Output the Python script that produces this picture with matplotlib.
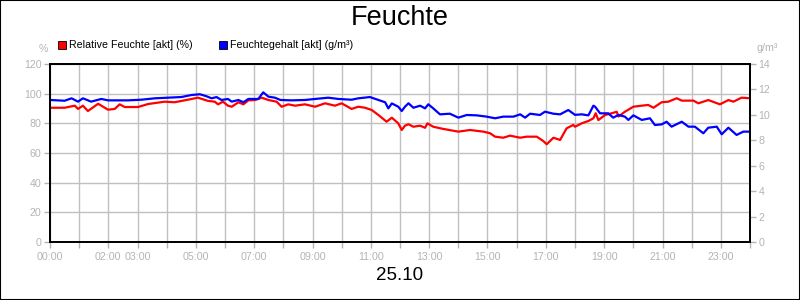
import matplotlib
matplotlib.use('Agg')
import matplotlib.pyplot as plt
from matplotlib.patches import Rectangle

'''
--------------------------> DATA (read off the reference)
'''

# relative humidity in %, left axis
rel_hours = [0.0, 0.5, 0.85, 0.96, 1.13, 1.3, 1.65, 1.99, 2.22, 2.39, 2.56, 3.02, 3.36, 3.93, 4.27,
             4.85, 5.07, 5.42, 5.65, 5.76, 5.93, 6.1, 6.23, 6.46, 6.63, 6.8, 7.03, 7.26, 7.49, 7.77,
             7.94, 8.17, 8.4, 8.74, 9.09, 9.43, 9.77, 10.0, 10.34, 10.57, 10.8, 11.03, 11.26, 11.54,
             11.72, 11.94, 12.06, 12.17, 12.29, 12.46, 12.69, 12.86, 12.94, 13.14, 13.49, 14.0, 14.4,
             14.86, 15.09, 15.26, 15.54, 15.77, 16.12, 16.34, 16.69, 16.91, 17.03, 17.26, 17.49,
             17.71, 17.94, 18.0, 18.23, 18.46, 18.63, 18.71, 18.8, 19.03, 19.26, 19.43, 19.49, 19.71,
             20.0, 20.29, 20.51, 20.69, 20.97, 21.2, 21.49, 21.66, 22.06, 22.23, 22.57, 22.97, 23.26,
             23.43, 23.71, 24.0]
rel_vals = [90.5, 90.5, 91.9, 89.7, 91.9, 88.3, 93.2, 89.2, 89.7, 92.8, 91.0, 91.0, 93.0, 94.6, 94.2,
            96.4, 97.3, 95.1, 94.6, 92.8, 94.6, 91.9, 91.2, 94.2, 92.8, 95.5, 95.7, 97.3, 95.7, 94.6,
            91.2, 92.8, 91.9, 92.8, 91.2, 93.5, 91.9, 93.5, 89.7, 91.2, 90.5, 89.0, 85.6, 81.1,
            83.8, 80.0, 75.5, 78.4, 79.4, 77.7, 78.4, 77.0, 80.0, 77.7, 76.2, 74.4, 75.5,
            74.4, 73.3, 71.0, 70.3, 71.7, 70.3, 71.0, 71.0, 68.1, 65.9, 70.3, 68.8,
            76.6, 78.9, 77.7, 80.0, 81.6, 83.4, 86.8, 82.2, 85.6, 86.8, 87.8, 84.6, 87.8,
            91.2, 91.9, 92.4, 90.5, 94.2, 94.6, 96.9, 95.3, 95.3, 93.5, 95.7, 92.8, 95.7,
            94.6, 97.3, 96.9]

# absolute humidity in g/m3, right axis
abs_hours = [0.0, 0.5, 0.74, 0.96, 1.13, 1.41, 1.76, 1.99, 2.67, 3.13, 3.59, 4.04, 4.5, 4.85, 5.14,
             5.37, 5.54, 5.71, 5.88, 6.1, 6.23, 6.46, 6.63, 6.8, 7.14, 7.31, 7.49, 7.71, 7.9, 8.29,
             8.74, 9.09, 9.54, 9.89, 10.34, 10.57, 10.97, 11.26, 11.49, 11.6, 11.72, 11.94, 12.06,
             12.17, 12.29, 12.46, 12.69, 12.86, 12.97, 13.14, 13.37, 13.71, 14.0, 14.29, 14.63,
             14.97, 15.26, 15.54, 15.89, 16.12, 16.29, 16.46, 16.8, 16.97, 17.26, 17.49, 17.77,
             18.0, 18.23, 18.46, 18.63, 18.69, 18.86, 19.14, 19.31, 19.49, 19.71, 19.83, 20.0,
             20.29, 20.57, 20.74, 20.97, 21.14, 21.31, 21.66, 21.89, 22.11, 22.4, 22.57, 22.86,
             23.03, 23.26, 23.54, 23.77, 24.0]
abs_vals = [11.17, 11.11, 11.30, 11.04, 11.30, 11.04, 11.25, 11.14, 11.14, 11.19, 11.30, 11.35, 11.40,
            11.56, 11.62, 11.46, 11.30, 11.40, 11.17, 11.25, 11.04, 11.17, 10.99, 11.25, 11.25,
            11.77, 11.43, 11.35, 11.17, 11.14, 11.17, 11.25, 11.35, 11.25, 11.19, 11.30, 11.40,
            11.17, 10.99, 10.51, 10.9, 10.64, 10.30, 10.64, 10.91, 10.56, 10.72, 10.51, 10.83,
            10.51, 10.04, 10.09, 9.78, 9.99, 9.96, 9.86, 9.73, 9.86, 9.86, 10.04, 9.78, 10.09,
            9.99, 10.25, 10.09, 10.04, 10.38, 10.0, 10.04, 9.96, 10.72, 10.64, 10.12, 10.12,
            9.78, 9.99, 9.86, 9.60, 9.96, 9.60, 9.73, 9.20, 9.25, 9.46, 9.07, 9.46, 9.07, 9.07,
            8.55, 8.99, 9.07, 8.47, 8.99, 8.42, 8.68, 8.68]

hour_labels = {0: '00:00', 2: '02:00', 3: '03:00', 5: '05:00', 7: '07:00', 9: '09:00', 11: '11:00',
               13: '13:00', 15: '15:00', 17: '17:00', 19: '19:00', 21: '21:00', 23: '23:00'}

'''
--------------------------> MAKE PLOT
'''

plt.rcParams['font.family'] = ['Liberation Sans', 'DejaVu Sans']
grey = '#b4b4b4'

fig = plt.figure(figsize=(8, 3), dpi=100)
ax = fig.add_axes([0.0625, 0.1933, 0.875, 0.5934])
ax2 = ax.twinx()

ax.plot(rel_hours, rel_vals, color='#ff0000', lw=1.6)
ax2.plot(abs_hours, abs_vals, color='#0000ff', lw=1.6)

ax.set_xlim(0, 24)
ax.set_ylim(0, 120)
ax2.set_ylim(0, 14)
ax.set_xticks(range(25))
ax.set_xticklabels([hour_labels.get(h, '') for h in range(25)])
ax.set_yticks(range(0, 121, 20))
ax2.set_yticks(range(0, 15, 2))
ax.grid(True, color='#c0c0c0', lw=1)
ax.set_axisbelow(True)

for a in (ax, ax2):
    a.tick_params(colors=grey, labelsize=7.7, length=4, width=1, pad=2)
    for s in a.spines.values():
        s.set_color('black')
        s.set_linewidth(1.3)
ax.tick_params(axis='x', pad=3)

# unit labels
fig.text(43 / 800, 1 - 49 / 300, '%', color=grey, fontsize=7.7, ha='center', va='center')
fig.text(767 / 800, 1 - 48 / 300, 'g/m³', color=grey, fontsize=7.7, ha='center', va='center')

# legend squares
for x0, col, txt in [(58, '#ff0000', 'Relative Feuchte [akt] (%)'), (219, '#0000ff', 'Feuchtegehalt [akt] (g/m³)')]:
    fig.patches.append(Rectangle((x0 / 800, 1 - 49 / 300), 8 / 800, 8 / 300, transform=fig.transFigure,
                                 facecolor=col, edgecolor='black', lw=0.6))
    fig.text((x0 + 11) / 800, 1 - 45 / 300, txt, fontsize=7.7, ha='left', va='center')

fig.text(0.5, 1 - 18 / 300, 'Feuchte', fontsize=19.5, ha='center', va='center')
fig.text(0.5, 1 - 276 / 300, '25.10', fontsize=13.5, ha='center', va='center')

# outer frame
fig.patches.append(Rectangle((0, 0), 1, 1, transform=fig.transFigure, fill=False,
                             edgecolor='black', lw=1.5))

plt.savefig('out.png', dpi=100)
